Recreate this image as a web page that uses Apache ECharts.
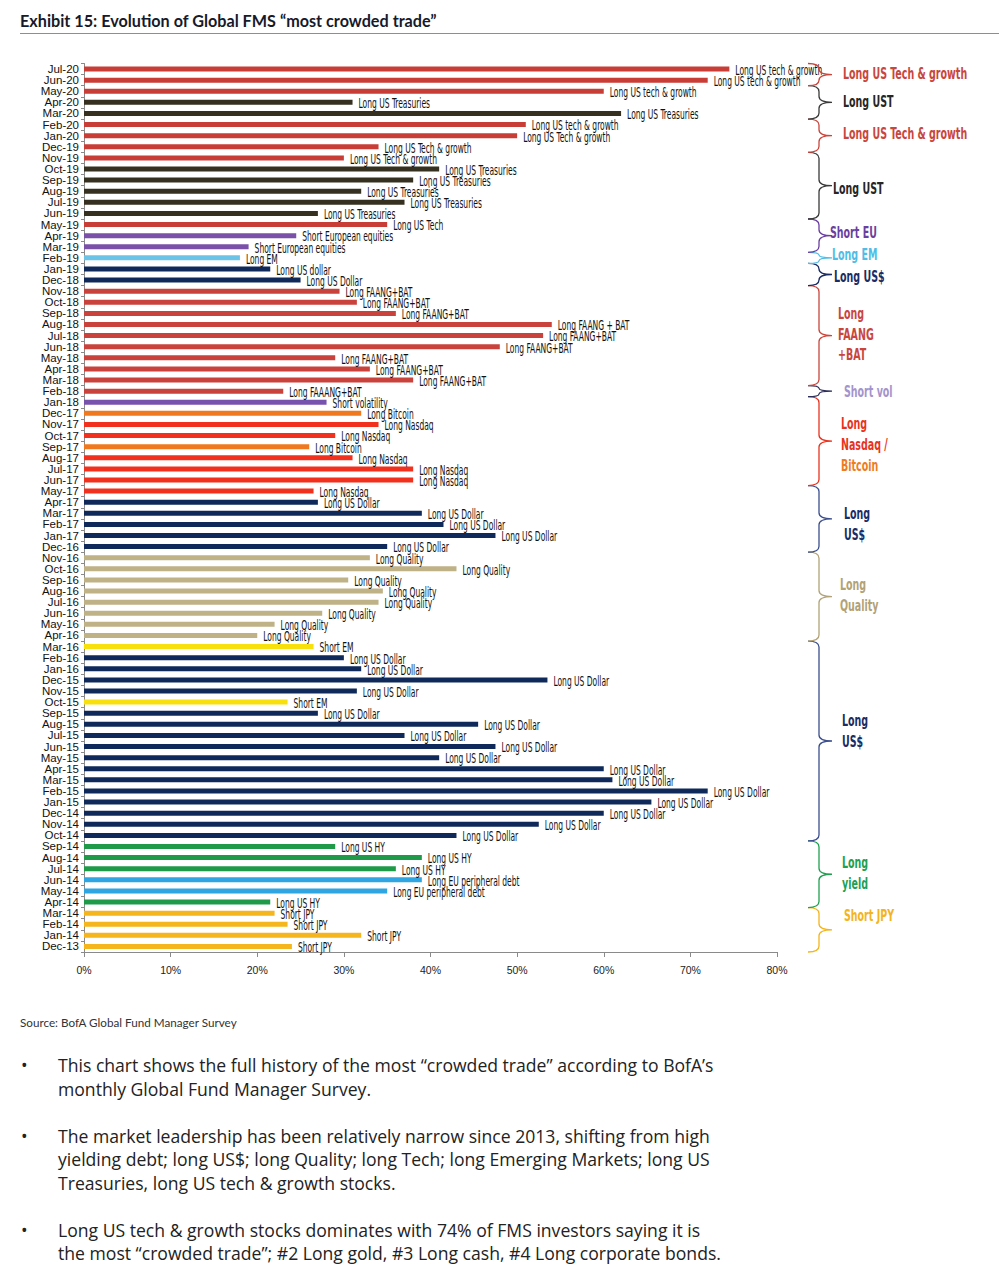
<!DOCTYPE html>
<html><head><meta charset="utf-8">
<script src="https://cdn.jsdelivr.net/npm/echarts/dist/echarts.min.js"></script>
<style>
html,body{margin:0;padding:0;background:#fff;}
#wrap{position:relative;width:999px;height:1280px;overflow:hidden;background:#fff;}
#title{position:absolute;left:20px;top:11px;font-family:Lato,"Liberation Sans",sans-serif;font-weight:bold;font-size:16.2px;color:#161a2a;white-space:nowrap;}
#rule{position:absolute;left:20px;top:33px;width:979px;height:0;border-top:1px solid #6f93c4;}
#chart{position:absolute;left:0;top:0;width:999px;height:1000px;}
#source{position:absolute;left:20px;top:1015px;font-family:Lato,"Liberation Sans",sans-serif;font-size:11.7px;color:#333;white-space:nowrap;}
#bullets{position:absolute;left:0;top:1054px;font-family:"Open Sans",Lato,sans-serif;font-size:17.6px;line-height:23.5px;color:#222;}
.b{position:relative;padding-left:58px;white-space:nowrap;margin-bottom:23.5px;}
.b:before{content:"•";position:absolute;left:21px;top:0;}
</style></head>
<body><div id="wrap">
<div id="title">Exhibit 15: Evolution of Global FMS “most crowded trade”</div>
<div id="rule"></div>
<div id="chart"></div>
<div id="source">Source: BofA Global Fund Manager Survey</div>
<div id="bullets">
<div class="b">This chart shows the full history of the most “crowded trade” according to BofA’s<br>monthly Global Fund Manager Survey.</div>
<div class="b">The market leadership has been relatively narrow since 2013, shifting from high<br>yielding debt; long US$; long Quality; long Tech; long Emerging Markets; long US<br>Treasuries, long US tech &amp; growth stocks.</div>
<div class="b">Long US tech &amp; growth stocks dominates with 74% of FMS investors saying it is<br>the most “crowded trade”; #2 Long gold, #3 Long cash, #4 Long corporate bonds.</div>
</div>
</div>
<script>
// ---- data (chronological, bottom to top) ----
const months = ['Dec-13','Jan-14','Feb-14','Mar-14','Apr-14','May-14','Jun-14','Jul-14','Aug-14','Sep-14','Oct-14','Nov-14','Dec-14',
'Jan-15','Feb-15','Mar-15','Apr-15','May-15','Jun-15','Jul-15','Aug-15','Sep-15','Oct-15','Nov-15','Dec-15',
'Jan-16','Feb-16','Mar-16','Apr-16','May-16','Jun-16','Jul-16','Aug-16','Sep-16','Oct-16','Nov-16','Dec-16',
'Jan-17','Feb-17','Mar-17','Apr-17','May-17','Jun-17','Jul-17','Aug-17','Sep-17','Oct-17','Nov-17','Dec-17',
'Jan-18','Feb-18','Mar-18','Apr-18','May-18','Jun-18','Jul-18','Aug-18','Sep-18','Oct-18','Nov-18','Dec-18',
'Jan-19','Feb-19','Mar-19','Apr-19','May-19','Jun-19','Jul-19','Aug-19','Sep-19','Oct-19','Nov-19','Dec-19',
'Jan-20','Feb-20','Mar-20','Apr-20','May-20','Jun-20','Jul-20'];

const values = [24,32,23.5,22,21.5,35,39,36,39,29,43,52.5,60,
65.5,72,61,60,41,47.5,37,45.5,27,23.5,31.5,53.5,
32,30,26.5,20,22,27.5,34,34.5,30.5,43,33,35,
47.5,41.5,39,27,26.5,38,38,31,26,29,34,32,
28,23,38,33,29,48,53,54,36,31.5,29.5,25,
21.5,18,19,24.5,35,27,37,32,38,41,30,34,
50,51,62,31,60,72,74.5];

const barLabels = ['Short JPY','Short JPY','Short JPY','Short JPY','Long US HY','Long EU peripheral debt','Long EU peripheral debt','Long US HY','Long US HY','Long US HY','Long US Dollar','Long US Dollar','Long US Dollar',
'Long US Dollar','Long US Dollar','Long US Dollar','Long US Dollar','Long US Dollar','Long US Dollar','Long US Dollar','Long US Dollar','Long US Dollar','Short EM','Long US Dollar','Long US Dollar',
'Long US Dollar','Long US Dollar','Short EM','Long Quality','Long Quality','Long Quality','Long Quality','Long Quality','Long Quality','Long Quality','Long Quality','Long US Dollar',
'Long US Dollar','Long US Dollar','Long US Dollar','Long US Dollar','Long Nasdaq','Long Nasdaq','Long Nasdaq','Long Nasdaq','Long Bitcoin','Long Nasdaq','Long Nasdaq','Long Bitcoin',
'Short volatility','Long FAAANG+BAT','Long FAANG+BAT','Long FAANG+BAT','Long FAANG+BAT','Long FAANG+BAT','Long FAANG+BAT','Long FAANG + BAT','Long FAANG+BAT','Long FAANG+BAT','Long FAANG+BAT','Long US Dollar',
'Long US dollar','Long EM','Short European equities','Short European equities','Long US Tech','Long US Treasuries','Long US Treasuries','Long US Treasuries','Long US Treasuries','Long US Treasuries','Long US Tech & growth','Long US Tech & growth',
'Long US Tech & growth','Long US tech & growth','Long US Treasuries','Long US Treasuries','Long US tech & growth','Long US tech & growth','Long US tech & growth'];

const xTicks = [0,10,20,30,40,50,60,70,80];

// bracket annotations on the right (first and last month covered)
const groupNames = ['Short JPY','Long\nyield','Long\nUS$','Long\nQuality','Long\nUS$ ','Long\nNasdaq /\nBitcoin','Short vol','Long\nFAANG\n+BAT','Long US$','Long EM','Short EU','Long UST','Long US Tech & growth','Long UST ','Long US Tech & growth '];
const groupFrom = ['Dec-13','Apr-14','Oct-14','Apr-16','Dec-16','Jun-17','Feb-18','Mar-18','Dec-18','Feb-19','Mar-19','Jun-19','Dec-19','Mar-20','Jun-20'];
const groupTo   = ['Mar-14','Sep-14','Mar-16','Nov-16','May-17','Jan-18','Feb-18','Nov-18','Jan-19','Feb-19','May-19','Nov-19','Feb-20','May-20','Jul-20'];

// ---- styles ----
const COND = '"DejaVu Sans Condensed","DejaVu Sans",sans-serif';
const barColor = {
  'short jpy':'#F5B51C','long us hy':'#1F9A48','long eu peripheral debt':'#2FA6E2','long us dollar':'#0F2A5A',
  'short em':'#F7E00C','long quality':'#BFB287','long nasdaq':'#F1301D','long bitcoin':'#F0781F',
  'short volatility':'#7853AD','long faaang+bat':'#C9433C','long faang+bat':'#C9433C','long faang + bat':'#C9433C',
  'long em':'#6CC3E8','short european equities':'#7A50A8','long us tech':'#C83D36','long us treasuries':'#35301F',
  'long us tech & growth':'#C83D36'
};
const groupStyle = {
  'Short JPY':{c:'#F3B41C',s:'#F3B41C',dx:25,dy:-15},
  'Long\nyield':{c:'#21A052',s:'#21A052',dx:23,dy:-2},
  'Long\nUS$':{c:'#1A2C64',s:'#3B4F8E',dx:23,dy:-10.5},
  'Long\nQuality':{c:'#B2A276',s:'#B2A276',dx:21,dy:-2},
  'Long\nUS$ ':{c:'#1A2C64',s:'#3B4F8E',dx:25,dy:5},
  'Long\nNasdaq /\nBitcoin':{c:'#E8331E',s:'#E8331E',dx:22,dy:3},
  'Short vol':{c:'#A594CC',s:'#2E2E5A',dx:25,dy:0},
  'Long\nFAANG\n+BAT':{c:'#C9463D',s:'#C9463D',dx:19,dy:-2},
  'Long US$':{c:'#1A2C64',s:'#1A2C64',dx:15,dy:2},
  'Long EM':{c:'#50BDE6',s:'#50BDE6',dx:13,dy:-4},
  'Short EU':{c:'#6A3FA0',s:'#6A3FA0',dx:11,dy:-4},
  'Long UST':{c:'#262626',s:'#3a3a3a',dx:14,dy:2.5},
  'Long UST ':{c:'#262626',s:'#3a3a3a',dx:24,dy:-1},
  'Long US Tech & growth':{c:'#C9463D',s:'#C9463D',dx:24,dy:-3},
  'Long US Tech & growth ':{c:'#C9463D',s:'#C9463D',dx:24,dy:-1.5}
};

const chart = echarts.init(document.getElementById('chart'), null, {renderer:'svg', width:999, height:1000});

const groupData = groupNames.map((n,i)=>[months.indexOf(groupFrom[i]), months.indexOf(groupTo[i]), i]);
const labelData = values.map((v,i)=>[v, i]);

function renderBrace(params, api){
  const a = api.value(0), b = api.value(1), gi = api.value(2);
  const name = groupNames[gi];
  const st = groupStyle[name];
  const band = api.size([0,1])[1];
  const p1 = api.coord([80, a]);
  const p2 = api.coord([80, b]);
  const yB = p1[1] + band/2, yT = p2[1] - band/2;
  const x0 = p1[0] + 42;
  const ym = (yT + yB)/2;
  const r = Math.min(6, (yB - yT)/4);
  const d = `M${x0-11},${yT} Q${x0},${yT} ${x0},${yT+r} L${x0},${ym-r} Q${x0},${ym} ${x0+13},${ym} Q${x0},${ym} ${x0},${ym+r} L${x0},${yB-r} Q${x0},${yB} ${x0-11},${yB}`;
  let ts;
  const base = {fontFamily:COND, fontSize:16, fontWeight:'bold', lineHeight:21};
  if (name.indexOf('Bitcoin') >= 0) {
    ts = {text:'{a|Long}\n{a|Nasdaq /}\n{b|Bitcoin}', rich:{
      a:Object.assign({fill:'#E8331E'}, base), b:Object.assign({fill:'#EE7D1E'}, base)}};
  } else {
    ts = {text:name.trim(), fill:st.c};
  }
  return {type:'group', children:[
    {type:'path', shape:{pathData:d}, style:{stroke:st.s, fill:null, lineWidth:1.3}},
    {type:'text', x:x0+st.dx, y:ym+st.dy, scaleX:0.66, scaleY:1,
     style:Object.assign({x:0, y:0, align:'left', verticalAlign:'middle'}, base, ts)}
  ]};
}

function renderBarLabel(params, api){
  const i = api.value(1);
  const p = api.coord([api.value(0), i]);
  return {type:'text', x:p[0]+6, y:p[1]+1, scaleX:0.6, scaleY:1,
    style:{x:0, y:0, text:barLabels[i], align:'left', verticalAlign:'middle',
      fontFamily:COND, fontSize:14, fill:'#111'}};
}

chart.setOption({
  animation:false,
  grid:{left:84, top:63.5, width:693, height:888.5, containLabel:false},
  xAxis:{type:'value', min:xTicks[0], max:xTicks[xTicks.length-1], interval:10,
    axisLine:{show:true, lineStyle:{color:'#8a8a8a', width:1}},
    axisTick:{show:true, length:5, lineStyle:{color:'#8a8a8a'}},
    splitLine:{show:false},
    axisLabel:{formatter:'{value}%', fontFamily:'"Liberation Sans",sans-serif', fontSize:10.5, color:'#222', margin:12}},
  yAxis:{type:'category', data:months,
    axisLine:{show:true, lineStyle:{color:'#8a8a8a'}},
    axisTick:{show:true, length:3, lineStyle:{color:'#8a8a8a'}},
    axisLabel:{interval:0, fontFamily:'"Liberation Sans",sans-serif', fontSize:11.5, color:'#111', margin:5}},
  series:[
    {type:'bar', barWidth:5, data:values.map((v,i)=>({value:v, itemStyle:{color:barColor[barLabels[i].toLowerCase()]}}))},
    {type:'custom', renderItem:renderBarLabel, data:labelData, clip:false, silent:true, z:4},
    {type:'custom', renderItem:renderBrace, data:groupData, clip:false, silent:true, z:5}
  ]
});
</script>
</body></html>
